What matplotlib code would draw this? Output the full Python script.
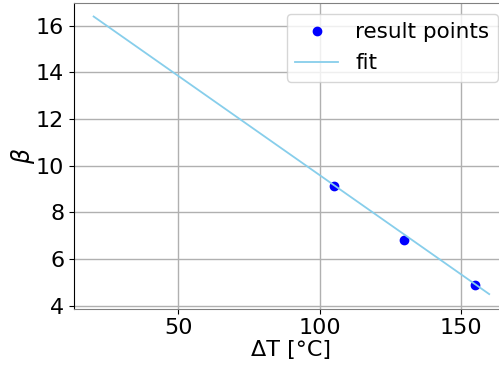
import matplotlib
matplotlib.use("Agg")
import matplotlib.pyplot as plt

# measured points
dT = [105, 130, 155]
beta = [9.15, 6.82, 4.90]

# linear fit, evaluated at the ends of the range
fit_x = [20, 160]
fit_y = [16.39, 4.50]

plt.rcParams['font.size'] = 16

fig = plt.figure(figsize=(4.99, 3.70), dpi=100)
ax = fig.add_axes([0.148, 0.166, 0.872, 0.826])

ax.plot(dT, beta, "o", color="blue", markersize=6, label="result points")
ax.plot(fit_x, fit_y, color="skyblue", linewidth=1.3, label="fit")

ax.set_xlim(13, 167)
ax.set_ylim(3.88, 16.97)
ax.set_xticks([50, 100, 150])
ax.set_yticks([4, 6, 8, 10, 12, 14, 16])
ax.grid(True, color="#b0b0b0", linewidth=1)
ax.spines["top"].set_color("gray")
ax.spines["bottom"].set_color("gray")

ax.set_xlabel("ΔT [°C]", labelpad=1)
ax.set_ylabel(r"$\beta$", fontsize=17, labelpad=-1)
ax.legend(loc="upper right", fontsize=15.5)

fig.savefig("out.png", dpi=100)
